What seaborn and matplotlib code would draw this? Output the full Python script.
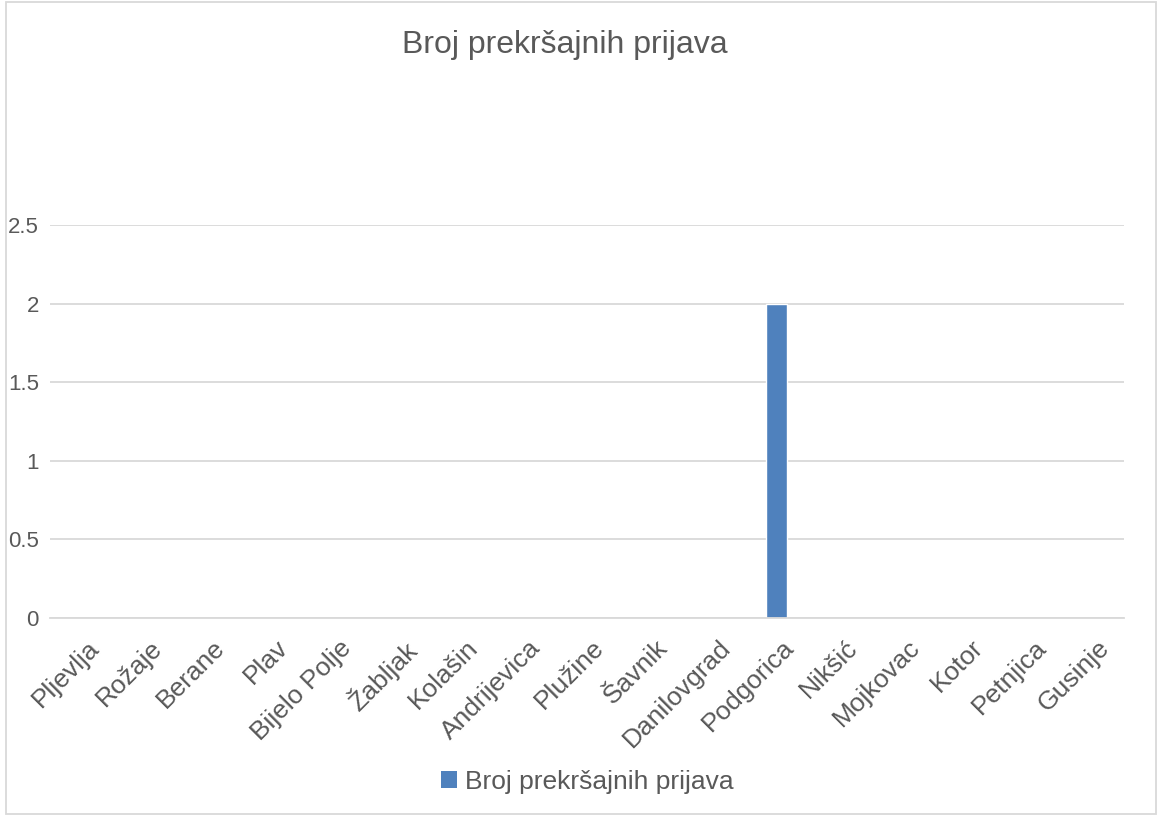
import matplotlib
matplotlib.use("Agg")
import matplotlib.pyplot as plt
import matplotlib.transforms as mtransforms
import seaborn as sns
import pandas as pd
from matplotlib.patches import Rectangle, Patch

opstine = ['Pljevlja', 'Rožaje', 'Berane', 'Plav', 'Bijelo Polje', 'Žabljak', 'Kolašin',
           'Andrijevica', 'Plužine', 'Šavnik', 'Danilovgrad', 'Podgorica', 'Nikšić',
           'Mojkovac', 'Kotor', 'Petnjica', 'Gusinje']
prijave = [0, 0, 0, 0, 0, 0, 0, 0, 0, 0, 0, 2, 0, 0, 0, 0, 0]
naziv = 'Broj prekršajnih prijava'
yticks = [0, 0.5, 1, 1.5, 2, 2.5]

sns.set_style("white")
plt.rcParams['font.family'] = ['Liberation Sans', 'DejaVu Sans']

data = pd.DataFrame({'opstina': opstine, 'prijave': prijave})

fig = plt.figure(figsize=(11.58, 8.16), dpi=100)
ax = fig.add_axes([50 / 1158, 1 - 618 / 816, (1124 - 50) / 1158, (618 - 225) / 816])

sns.barplot(x='opstina', y='prijave', data=data, color='#4F81BD', width=0.32,
            saturation=1, ax=ax)

ax.set_ylim(0, 2.5)
ax.set_xlim(-0.5, len(opstine) - 0.5)
ax.set_yticks(yticks)
ax.set_yticklabels([f'{t:g}' for t in yticks], fontsize=16, color='#595959')
ax.yaxis.grid(True, color='#D9D9D9', linewidth=1.3)
ax.set_axisbelow(True)
for s in ax.spines.values():
    s.set_visible(False)
ax.spines['bottom'].set_visible(True)
ax.spines['bottom'].set_color('#D9D9D9')
ax.spines['bottom'].set_linewidth(1.3)
ax.tick_params(axis='y', length=0, pad=8)
ax.tick_params(axis='x', length=0, pad=4)
ax.set_xticks(range(len(opstine)))
ax.set_xticklabels(opstine, rotation=45, ha='right', rotation_mode='anchor',
                   fontsize=19, color='#595959')
offset = mtransforms.ScaledTranslation(5 / 100, -12 / 100, fig.dpi_scale_trans)
for lab in ax.get_xticklabels():
    lab.set_transform(lab.get_transform() + offset)
ax.set_xlabel('')
ax.set_ylabel('')

fig.text(565 / 1158, 1 - 45 / 816, naziv, ha='center', va='center', fontsize=23, color='#595959')

handles = [Patch(facecolor='#4F81BD', edgecolor='none', label=naziv)]
fig.legend(handles=handles, loc='center', bbox_to_anchor=(587 / 1158, 1 - 782 / 816),
           frameon=False, fontsize=19, labelcolor='#595959', handlelength=0.6,
           handleheight=0.6, handletextpad=0.3)

fig.patches.append(Rectangle((6 / 1158, 0.002), 1150 / 1158, 0.996, transform=fig.transFigure,
                             fill=False, edgecolor='#D9D9D9', linewidth=1.3))

fig.savefig("out.png", dpi=100)
plt.close(fig)
